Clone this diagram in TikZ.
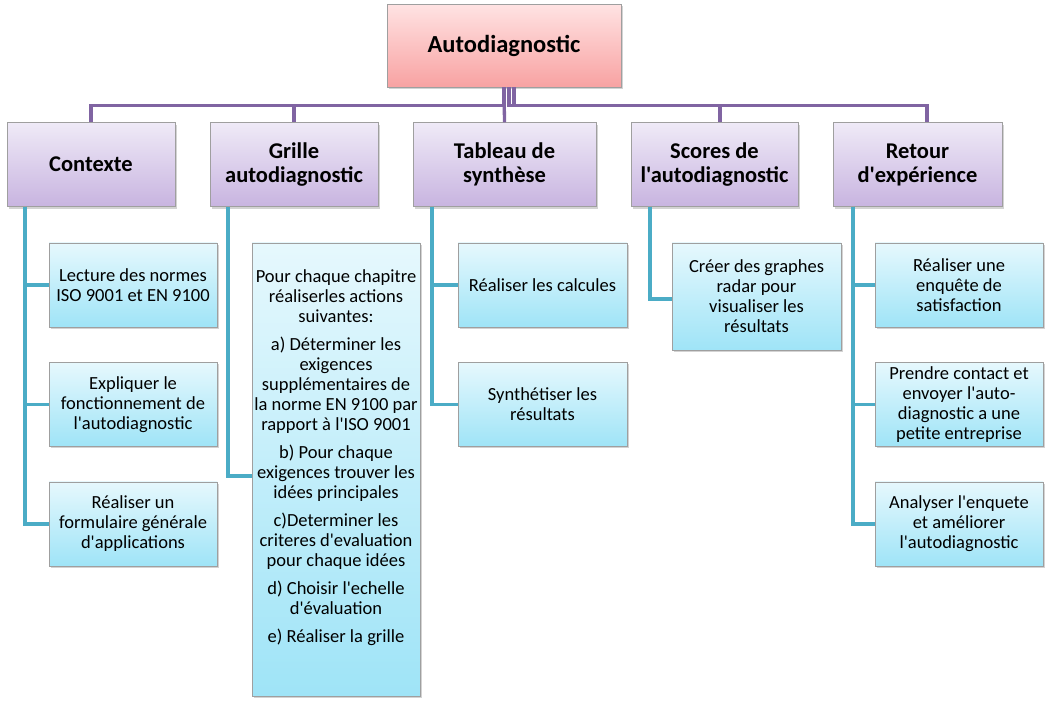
\documentclass[tikz,border=0pt]{standalone}
\usepackage{fontspec}
\setmainfont{Carlito}[Ligatures=TeXOff]
\usetikzlibrary{positioning,shadows}

\definecolor{rosetop}{HTML}{FFE3E3}
\definecolor{rosebot}{HTML}{F8A2A2}
\definecolor{lilactop}{HTML}{EFEAF7}
\definecolor{lilacbot}{HTML}{C8B4E0}
\definecolor{skytop}{HTML}{E6F8FD}
\definecolor{skybot}{HTML}{9FE4F7}
\definecolor{orgpurple}{HTML}{8064A2}
\definecolor{orgteal}{HTML}{4BACC6}

\begin{document}
\begin{tikzpicture}[x=1pt, y=-1pt,
    boxshadow/.style={drop shadow={shadow xshift=1.5pt, shadow yshift=-2pt, opacity=0.35}},
    rootbox/.style={draw=gray!75, top color=rosetop, bottom color=rosebot, boxshadow,
      minimum width=234pt, minimum height=83pt, inner sep=2pt,
      font=\fontsize{24.5}{28}\selectfont\bfseries},
    topicbox/.style={draw=gray!75, top color=lilactop, bottom color=lilacbot, boxshadow,
      minimum width=168pt, minimum height=84pt, inner sep=1pt, align=center,
      font=\fontsize{22.5}{24}\selectfont\bfseries},
    taskbox/.style={draw=gray!75, top color=skytop, bottom color=skybot, boxshadow,
      minimum width=168pt, minimum height=84pt, inner sep=0.5pt, align=center,
      font=\fontsize{18.5}{20}\selectfont},
    topline/.style={draw=orgpurple, line width=3.3pt},
    taskline/.style={draw=orgteal, line width=3.6pt}]

    \useasboundingbox (0,0) rectangle (1052,705);

    % root and first level
    \node[rootbox] (root) at (504,45.5) {Autodiagnostic};

    \node[topicbox] (ctx) at (91,164.5) {Contexte};
    \node[topicbox] (gr) at (294,164.5) {Grille\\autodiagnostic};
    \node[topicbox, minimum width=183pt] (tab) at (504.5,164.5) {Tableau de\\synthèse};
    \node[topicbox, minimum width=167pt] (sc) at (714.5,164.5) {Scores de\\l'autodiagnostic};
    \node[topicbox, minimum width=169pt] (ret) at (917.5,164.5) {Retour\\d'expérience};

    % second level
    \node[taskbox, below=36pt of ctx.south, xshift=42pt] (ca1) {Lecture des normes\\ISO 9001 et EN 9100};
    \node[taskbox, below=35pt of ca1] (ca2) {Expliquer le\\fonctionnement de\\l'autodiagnostic};
    \node[taskbox, below=35pt of ca2] (ca3) {Réaliser un\\formulaire générale\\d'applications};

    \node[taskbox, minimum height=453pt, below=36pt of gr.south, xshift=42pt] (ga1) {%
      Pour chaque chapitre\\réaliserles actions\\suivantes:\\[8pt]
      a) Déterminer les\\exigences\\supplémentaires de\\la norme EN 9100 par\\rapport à l'ISO 9001\\[8pt]
      b) Pour chaque\\exigences trouver les\\idées principales\\[8pt]
      c)Determiner les\\criteres d'evaluation\\pour chaque idées\\[8pt]
      d) Choisir l'echelle\\d'évaluation\\[8pt]
      e) Réaliser la grille\par\vspace*{24pt}};

    \node[taskbox, minimum width=169pt, below=36pt of tab.south, xshift=38pt] (ta1) {Réaliser les calcules};
    \node[taskbox, minimum width=169pt, below=35pt of ta1] (ta2) {Synthétiser les\\résultats};

    \node[taskbox, minimum width=169pt, minimum height=107pt, below=36pt of sc.south, xshift=42pt] (sa1) {Créer des graphes\\radar pour\\visualiser les\\résultats};

    \node[taskbox, below=36pt of ret.south, xshift=41.5pt] (ra1) {Réaliser une\\enquête de\\satisfaction};
    \node[taskbox, below=35pt of ra1] (ra2) {Prendre contact et\\envoyer l'auto-\\diagnostic a une\\petite entreprise};
    \node[taskbox, below=35pt of ra2] (ra3) {Analyser l'enquete\\et améliorer\\l'autodiagnostic};

    % connectors
    \draw[topline] (root.south) -- ++(0,18) -| (ctx.north);
    \draw[topline] (root.south) -- ++(0,18) -| (gr.north);
    \draw[topline] (root.south) -- (tab.north);
    \draw[topline] ([xshift=5pt]root.south) -- ++(0,18) -| ([xshift=5.5pt]sc.north);
    \draw[topline] ([xshift=10pt]root.south) -- ++(0,18) -| ([xshift=9.5pt]ret.north);

    \draw[taskline] ([xshift=18pt]ctx.south west) |- (ca1);
    \draw[taskline] ([xshift=18pt]ctx.south west) |- (ca2);
    \draw[taskline] ([xshift=18pt]ctx.south west) |- (ca3);
    \draw[taskline] ([xshift=18pt]gr.south west) |- ([yshift=-6.5pt]ga1.west);
    \draw[taskline] ([xshift=19pt]tab.south west) |- (ta1);
    \draw[taskline] ([xshift=19pt]tab.south west) |- (ta2);
    \draw[taskline] ([xshift=19pt]sc.south west) |- ([yshift=-2.5pt]sa1.west);
    \draw[taskline] ([xshift=20pt]ret.south west) |- (ra1);
    \draw[taskline] ([xshift=20pt]ret.south west) |- (ra2);
    \draw[taskline] ([xshift=20pt]ret.south west) |- (ra3);
\end{tikzpicture}
\end{document}
